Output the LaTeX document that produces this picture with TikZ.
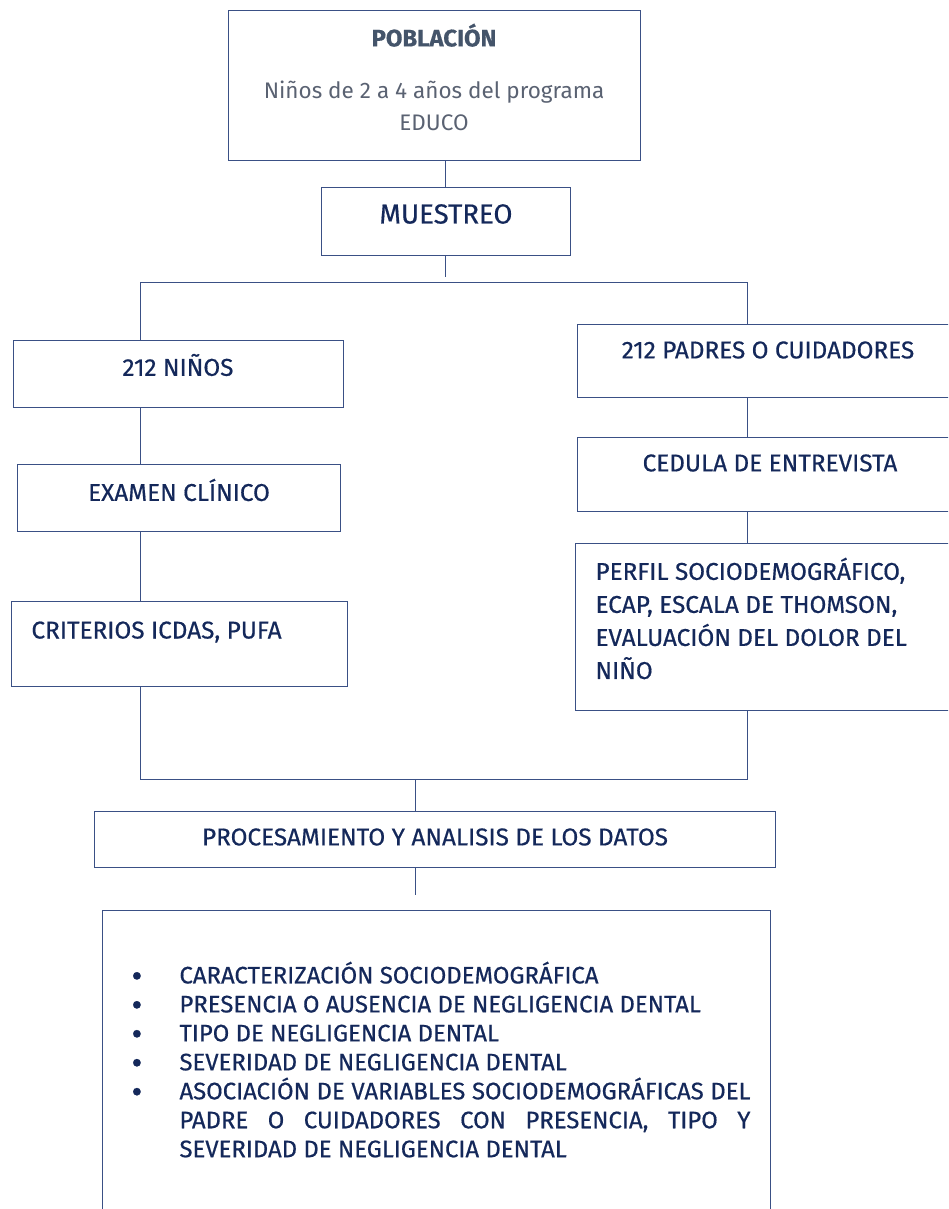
\documentclass[tikz,border=0pt]{standalone}
\usepackage{fontspec}
\setmainfont{Fira Sans}[FakeBold=0.5]
\newfontfamily\plainfont{Fira Sans}
\usetikzlibrary{positioning}
\definecolor{navy}{HTML}{14285A}
\definecolor{edge}{HTML}{3A5085}
\definecolor{slate}{HTML}{44546A}
\definecolor{gris}{HTML}{5A6272}

\begin{document}
\begin{tikzpicture}[thick,line width=0.7pt,every node/.style={text=navy},
  box/.style={draw=edge,minimum width=#1,inner sep=0pt},
  lbl/.style={font=\fontsize{17.3}{21}\selectfont,inner sep=0pt},
  bln/.style={font=\fontsize{17.3}{23.5}\selectfont,inner sep=0pt,align=left}]
  \useasboundingbox (0,0) rectangle (23.7,-30.225);
  \begin{scope}
  \clip (0,0) rectangle (23.7,-30.225);
  % boxes
  \node[box=10.3cm,minimum height=3.75cm] (pob) at (10.85,-2.125) {};
  \node[box=6.225cm,minimum height=1.7cm] (mue) at (11.1375,-5.525) {};
  \node[box=8.25cm,minimum height=1.675cm] (ninos) at (4.45,-9.3375) {};
  \node[box=8.075cm,minimum height=1.675cm] (exam) at (4.4625,-12.4375) {};
  \node[box=8.4cm,minimum height=2.125cm] (crit) at (4.475,-16.0875) {};
  \node[box=9.8cm,minimum height=1.825cm] (padres) at (19.325,-9.0125) {};
  \node[box=9.8cm,minimum height=1.85cm] (ced) at (19.325,-11.85) {};
  \node[box=9.85cm,minimum height=4.175cm] (perf) at (19.3,-15.6625) {};
  \node[box=17.025cm,minimum height=1.4cm] (proc) at (10.8625,-20.975) {};
  \node[box=16.7cm,minimum height=8cm] (res) at (10.9,-26.75) {};
  \end{scope}

  % texts
  \node[lbl,font=\fontsize{17}{21}\selectfont\bfseries,text=slate] (tpob) at (10.85,-0.88) {POBLACIÓN};
  \node[lbl,text=gris,align=center,font=\plainfont\fontsize{16}{23.4}\selectfont,anchor=north] (tpob2) at (10.85,-2.0)
    {Niños de 2 a 4 años del programa\\EDUCO};
  \node[lbl,font=\fontsize{19.6}{23}\selectfont] (tmue) at (11.15,-5.35) {MUESTREO};
  \node[lbl] (tninos) at (4.45,-9.125) {212 NIÑOS};
  \node[lbl] (texam) at (4.475,-12.25) {EXAMEN CLÍNICO};
  \node[lbl,anchor=west] (tcrit) at (0.775,-15.8) {CRITERIOS ICDAS, PUFA};
  \node[lbl] (tpadres) at (19.2,-8.75) {212 PADRES O CUIDADORES};
  \node[lbl] (tced) at (19.25,-11.575) {CEDULA DE ENTREVISTA};
  \node[bln,anchor=north west] (tperf) at (14.875,-13.93)
    {PERFIL SOCIODEMOGRÁFICO,\\ECAP, ESCALA DE THOMSON,\\EVALUACIÓN DEL DOLOR DEL\\NIÑO};
  \node[lbl] (tproc) at (10.875,-20.925) {PROCESAMIENTO Y ANALISIS DE LOS DATOS};
  \node[lbl,font=\fontsize{17}{20.6}\selectfont,text width=15.475cm,align=justify,anchor=north west] (tres) at (3.275,-23.85)
    {\def\itm{\par\noindent\hangindent=1.2cm\hangafter=1\makebox[1.2cm][l]{\raisebox{-0.16em}[0pt][0pt]{\scalebox{1.4}{\textbullet}}}}%
     \itm CARACTERIZACIÓN SOCIODEMOGRÁFICA
     \itm PRESENCIA O AUSENCIA DE NEGLIGENCIA DENTAL
     \itm TIPO DE NEGLIGENCIA DENTAL
     \itm SEVERIDAD DE NEGLIGENCIA DENTAL
     \itm ASOCIACIÓN DE VARIABLES SOCIODEMOGRÁFICAS DEL\linebreak PADRE O CUIDADORES CON PRESENCIA, TIPO Y\linebreak SEVERIDAD DE NEGLIGENCIA DENTAL\par};

  % connectors
  \coordinate (split) at (11.1375,-6.925);
  \coordinate (lft) at (3.5,-7.05);
  \coordinate (rgt) at (18.675,-7.05);
  \coordinate (join) at (10.375,-19.475);
  \coordinate (tail) at (10.375,-22.375);
  \draw[edge] (mue.north) -- (mue.north |- pob.south);
  \draw[edge] (mue.south) -- (split);
  \draw[edge] (lft |- ninos.north) -- (lft) -- (rgt) -- (rgt |- padres.north);
  \draw[edge] (lft |- ninos.south) -- (lft |- exam.north);
  \draw[edge] (lft |- exam.south) -- (lft |- crit.north);
  \draw[edge] (rgt |- padres.south) -- (rgt |- ced.north);
  \draw[edge] (rgt |- ced.south) -- (rgt |- perf.north);
  \draw[edge] (lft |- crit.south) -- (lft |- join) -- (rgt |- join) -- (rgt |- perf.south);
  \draw[edge] (join) -- (join |- proc.north);
  \draw[edge] (join |- proc.south) -- (tail);
\end{tikzpicture}
\end{document}
